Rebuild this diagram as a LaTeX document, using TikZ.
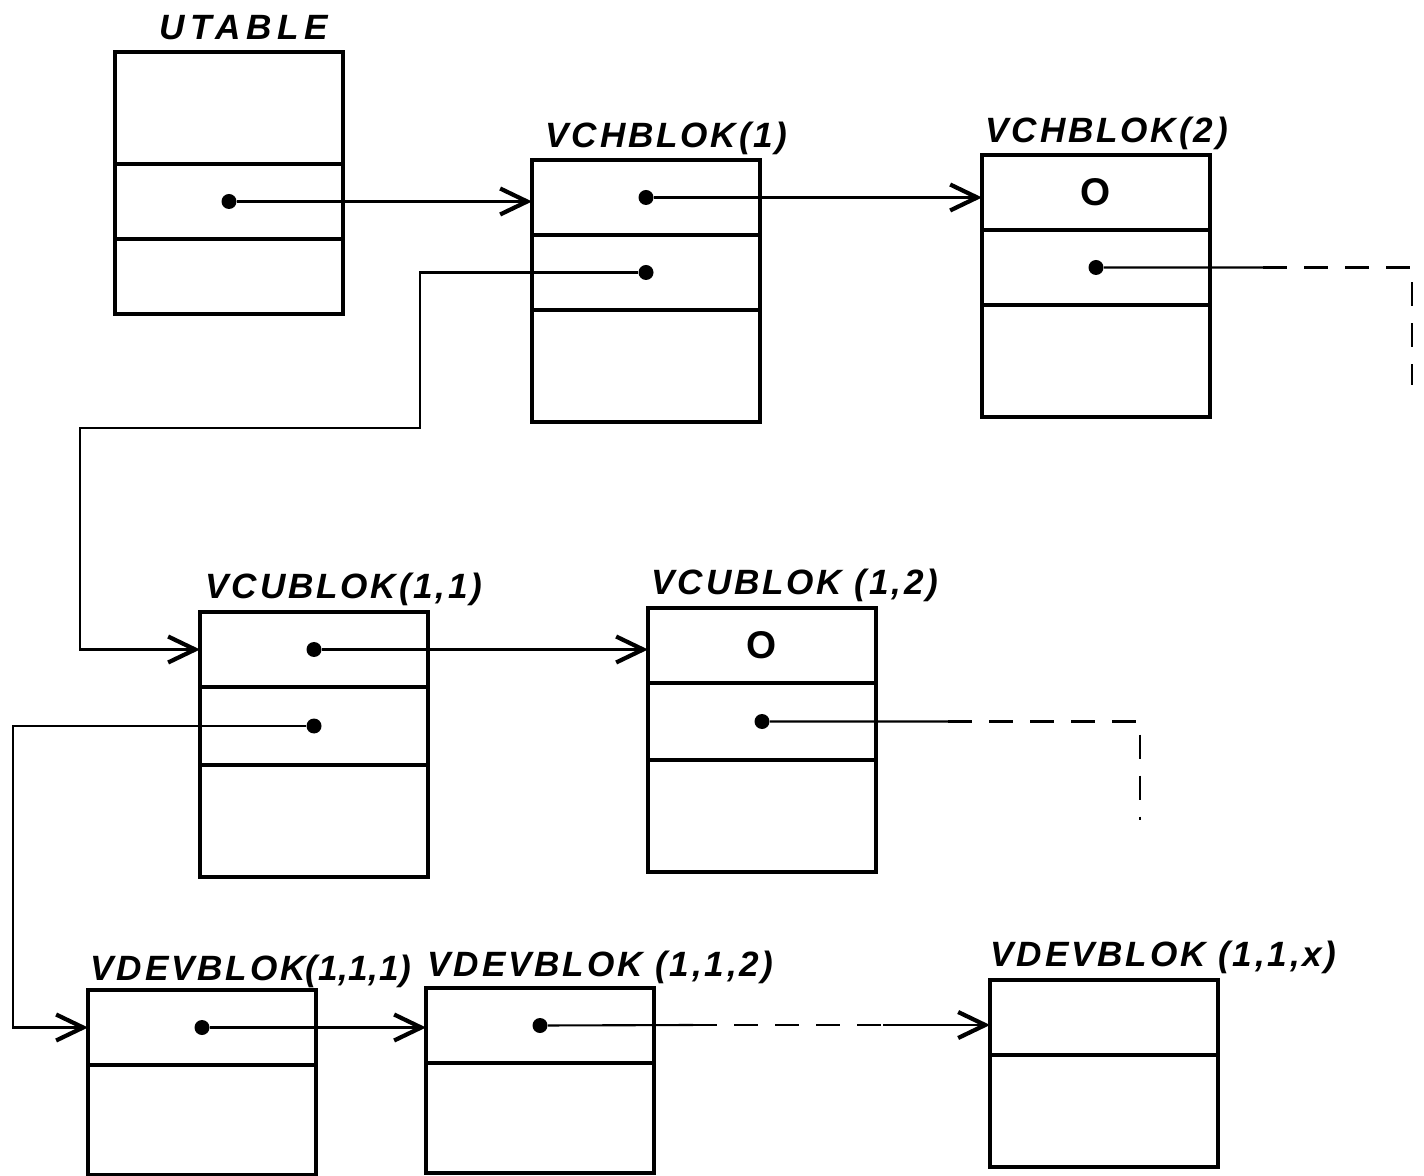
\documentclass[tikz,border=0pt]{standalone}
\usepackage{fontspec}
\newfontfamily\handfont[LetterSpace=8]{Liberation Sans}
\usetikzlibrary{positioning,arrows.meta}

\tikzset{
  cell/.style={draw, line width=1.2pt, minimum width=2.28cm, inner sep=0pt, outer sep=0pt},
  lowcell/.style={cell, minimum height=0.75cm},
  highcell/.style={cell, minimum height=1.12cm},
  lbl/.style={font=\handfont\bfseries\itshape\fontsize{10}{12}\selectfont, inner sep=0pt, anchor=base west},
  zero/.style={font=\handfont\bfseries\fontsize{11}{12}\selectfont},
  dot/.style={circle, fill, inner sep=0pt, minimum size=1.5mm},
  conn/.style={line width=0.6pt},
  ptr/.style={conn, -{Straight Barb[length=2.7mm, width=2.6mm, line width=1.2pt]}},
  nil/.style={conn, dash pattern=on 2.4mm off 1.7mm}
}

\begin{document}
\begin{tikzpicture}
\useasboundingbox (0,0) rectangle (14.24,-11.76);
% UTABLE
\node[highcell, anchor=north west] (ut1) at (1.15,-0.52) {};
\node[lowcell, below=0pt of ut1] (ut2) {};
\node[lowcell, below=0pt of ut2] (ut3) {};
\node[lbl, anchor=base] (lut) at ([xshift=0.15cm, yshift=0.12cm]ut1.north) {\addfontfeature{LetterSpace=16}UTABLE};
\node[dot] (utd) at (ut2.center) {};
% VCHBLOK(1)
\node[lowcell, anchor=north west] (ch1a) at (5.32,-1.60) {};
\node[lowcell, below=0pt of ch1a] (ch1b) {};
\node[highcell, below=0pt of ch1b] (ch1c) {};
\node[lbl] (lch1) at ([xshift=0.13cm, yshift=0.12cm]ch1a.north west) {VCHBLOK(1)};
\node[dot] (ch1d1) at (ch1a.center) {};
\node[dot] (ch1d2) at (ch1b.center) {};
% VCHBLOK(2)
\node[lowcell, anchor=north west] (ch2a) at (9.82,-1.55) {};
\node[lowcell, below=0pt of ch2a] (ch2b) {};
\node[highcell, below=0pt of ch2b] (ch2c) {};
\node[lbl] (lch2) at ([xshift=0.03cm, yshift=0.12cm]ch2a.north west) {VCHBLOK(2)};
\node[zero] (ch2z) at (ch2a.center) {O};
\node[dot] (ch2d) at (ch2b.center) {};
% VCUBLOK(1,1)
\node[lowcell, anchor=north west] (cu1a) at (2.00,-6.12) {};
\node[cell, minimum height=0.78cm, below=0pt of cu1a] (cu1b) {};
\node[highcell, below=0pt of cu1b] (cu1c) {};
\node[lbl] (lcu1) at ([xshift=0.05cm, yshift=0.13cm]cu1a.north west) {VCUBLOK(1,1)};
\node[dot] (cu1d1) at (cu1a.center) {};
\node[dot] (cu1d2) at (cu1b.center) {};
% VCUBLOK(1,2)
\node[lowcell, anchor=north west] (cu2a) at (6.48,-6.08) {};
\node[cell, minimum height=0.77cm, below=0pt of cu2a] (cu2b) {};
\node[highcell, below=0pt of cu2b] (cu2c) {};
\node[lbl] (lcu2) at ([xshift=0.03cm, yshift=0.13cm]cu2a.north west) {VCUBLOK (1,2)};
\node[zero] (cu2z) at (cu2a.center) {O};
\node[dot] (cu2d) at (cu2b.center) {};
% VDEVBLOK(1,1,1)
\node[lowcell, anchor=north west] (dv1a) at (0.88,-9.90) {};
\node[cell, minimum height=1.10cm, below=0pt of dv1a] (dv1b) {};
\node[lbl] (ldv1) at ([xshift=0.02cm, yshift=0.10cm]dv1a.north west) {VDEVBLOK{\addfontfeature{LetterSpace=2}(1,1,1)}};
\node[dot] (dv1d) at (dv1a.center) {};
% VDEVBLOK(1,1,2)
\node[lowcell, anchor=north west] (dv2a) at (4.26,-9.88) {};
\node[cell, minimum height=1.10cm, below=0pt of dv2a] (dv2b) {};
\node[lbl] (ldv2) at ([xshift=0.01cm, yshift=0.12cm]dv2a.north west) {VDEVBLOK (1,1,2)};
\node[dot] (dv2d) at (dv2a.center) {};
% VDEVBLOK(1,1,x)
\node[lowcell, anchor=north west] (dvxa) at (9.90,-9.80) {};
\node[highcell, below=0pt of dvxa] (dvxb) {};
\node[lbl] (ldvx) at ([xshift=0.0cm, yshift=0.14cm]dvxa.north west) {VDEVBLOK (1,1,x)};

% bends and loose ends
\coordinate (k1) at (4.20,-4.28);
\coordinate (k2) at (0.80,-5.00);
\coordinate (k3) at (0.13,-9.00);
\coordinate (e1) at (12.63,-2.675);
\coordinate (e2) at (14.12,-2.675);
\coordinate (e3) at (14.12,-3.85);
\coordinate (g1) at (9.48,-7.215);
\coordinate (g2) at (11.40,-7.215);
\coordinate (g3) at (11.40,-8.20);
\coordinate (f1) at (6.93,-10.25);
\coordinate (f2) at (8.83,-10.25);

% pointers
\draw[ptr] (utd) -- (utd -| ch1a.west);
\draw[ptr] (ch1d1) -- (ch1d1 -| ch2a.west);
\draw[ptr] (ch1d2) -| (k1) -| (k2) |- (cu1a.west);
\draw[ptr] (cu1d1) -- (cu1d1 -| cu2a.west);
\draw[ptr] (cu1d2) -| (k3) |- (dv1a.west);
\draw[ptr] (dv1d) -- (dv1d -| dv2a.west);
% open ends
\draw[conn] (ch2d) -- (e1);
\draw[nil] (e1) -- (e2) -- (e3);
\draw[conn] (cu2d) -- (g1);
\draw[nil] (g1) -- (g2) -- (g3);
\draw[conn] (dv2d) -- (f1);
\draw[nil] (f1) -- (f2);
\draw[ptr] (f2) -- (f2 -| dvxa.west);
\end{tikzpicture}
\end{document}
